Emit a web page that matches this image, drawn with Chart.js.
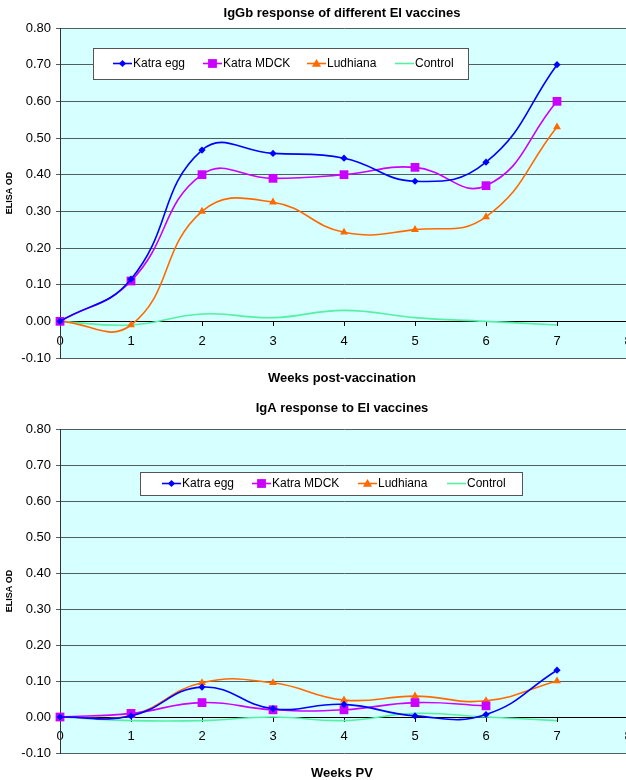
<!DOCTYPE html>
<html>
<head>
<meta charset="utf-8">
<title>IgGb and IgA response to EI vaccines</title>
<script src="https://cdn.jsdelivr.net/npm/chart.js@4.4.1/dist/chart.umd.min.js"></script>
<style>
  html, body { margin: 0; padding: 0; background: #ffffff; overflow: hidden; width: 626px; height: 780px; }
  .panel { position: absolute; left: 0; width: 640px; height: 390px; }
  #top { top: 0; }
  #bottom { top: 390px; }
</style>
</head>
<body>
<div class="panel" id="top"><canvas id="chartIgGb" width="640" height="390"></canvas></div>
<div class="panel" id="bottom"><canvas id="chartIgA" width="640" height="390"></canvas></div>
<script>
// Weeks after vaccination
const weeks = [0, 1, 2, 3, 4, 5, 6, 7];
const seriesNames = ['Katra egg', 'Katra MDCK', 'Ludhiana', 'Control'];
const yTickValues = [-0.10, 0.00, 0.10, 0.20, 0.30, 0.40, 0.50, 0.60, 0.70, 0.80];
const xTickValues = [0, 1, 2, 3, 4, 5, 6, 7, 8];

// IgGb ELISA OD
const iggbKatraEgg  = [0.00, 0.115, 0.467, 0.458, 0.445, 0.382, 0.434, 0.70];
const iggbKatraMDCK = [0.00, 0.11, 0.40, 0.39, 0.40, 0.42, 0.37, 0.60];
const iggbLudhiana  = [0.00, -0.01, 0.30, 0.325, 0.243, 0.25, 0.285, 0.53];
const iggbControl   = [0.00, -0.01, 0.02, 0.01, 0.03, 0.01, 0.00, -0.01];

// IgA ELISA OD
const igaKatraEgg  = [0.00, 0.003, 0.083, 0.023, 0.035, 0.003, 0.007, 0.13];
const igaKatraMDCK = [0.00, 0.01, 0.04, 0.02, 0.02, 0.04, 0.031, null];
const igaLudhiana  = [0.00, 0.005, 0.095, 0.095, 0.047, 0.058, 0.045, 0.10];
const igaControl   = [0.00, -0.01, -0.01, 0.00, -0.01, 0.01, 0.00, -0.01];

const FONT = '"Liberation Sans", Arial, sans-serif';
const styles = [
  { color: '#0000ff', point: 'rectRot', radius: 3.6 },
  { color: '#cc00ff', point: 'rect', radius: 6.2 },
  { color: '#ff6a00', point: 'triangle', radius: 4.6 },
  { color: '#55f0a5', point: false, radius: 0 }
];

function toPoints(values) {
  return weeks.map((w, i) => ({ x: w, y: values[i] }));
}

function makeDatasets(list) {
  return list.map((values, i) => ({
    label: seriesNames[i],
    data: toPoints(values),
    borderColor: styles[i].color,
    backgroundColor: styles[i].color,
    borderWidth: 1.6,
    pointStyle: styles[i].point,
    pointRadius: styles[i].radius,
    pointHoverRadius: styles[i].radius,
    pointBorderWidth: 0,
    tension: 0.45,
    spanGaps: false,
    clip: false
  }));
}

// Plot background, headings and the boxed legend inside the plot
const decorations = {
  id: 'decorations',
  beforeDraw(chart) {
    const a = chart.chartArea, ctx = chart.ctx;
    ctx.save();
    ctx.fillStyle = '#d6ffff';
    ctx.fillRect(a.left, a.top, a.right - a.left, a.bottom - a.top);
    ctx.restore();
  },
  afterDraw(chart, args, opts) {
    const a = chart.chartArea, ctx = chart.ctx;
    const cx = (a.left + a.right) / 2 - 2;
    ctx.save();
    ctx.fillStyle = '#000';
    ctx.textAlign = 'center';
    ctx.textBaseline = 'middle';
    ctx.font = 'bold 13px ' + FONT;
    ctx.fillText(opts.title, cx, opts.titleY);
    ctx.fillText(opts.xTitle, cx, opts.xTitleY);

    // legend box
    const L = opts.legend;
    ctx.fillStyle = '#ffffff';
    ctx.fillRect(L.x, L.y, L.w, L.h);
    ctx.strokeStyle = '#555';
    ctx.lineWidth = 1;
    ctx.strokeRect(L.x + 0.5, L.y + 0.5, L.w, L.h);
    const my = L.y + L.h / 2;
    ctx.font = '12px ' + FONT;
    ctx.textAlign = 'left';
    L.items.forEach((x0, i) => {
      const st = styles[i];
      ctx.strokeStyle = st.color;
      ctx.fillStyle = st.color;
      ctx.lineWidth = 1.6;
      ctx.beginPath();
      ctx.moveTo(x0, my);
      ctx.lineTo(x0 + 19, my);
      ctx.stroke();
      const mx = x0 + 9.5;
      ctx.beginPath();
      if (st.point === 'rectRot') {
        ctx.moveTo(mx, my - 3.6); ctx.lineTo(mx + 3.6, my); ctx.lineTo(mx, my + 3.6); ctx.lineTo(mx - 3.6, my);
      } else if (st.point === 'rect') {
        ctx.rect(mx - 4.4, my - 4.4, 8.8, 8.8);
      } else if (st.point === 'triangle') {
        ctx.moveTo(mx, my - 4.6); ctx.lineTo(mx + 4.6, my + 3.2); ctx.lineTo(mx - 4.6, my + 3.2);
      }
      ctx.closePath();
      if (st.point) ctx.fill();
      ctx.fillStyle = '#000';
      ctx.fillText(seriesNames[i], x0 + 20, my + 0.5);
    });
    ctx.restore();
  }
};

function buildChart(canvasId, list, deco, padTop, padBottom) {
  return new Chart(document.getElementById(canvasId), {
    type: 'line',
    data: { datasets: makeDatasets(list) },
    plugins: [decorations],
    options: {
      responsive: false,
      animation: false,
      devicePixelRatio: 1,
      layout: { padding: { top: padTop, bottom: padBottom, left: 0, right: 12 } },
      plugins: {
        legend: { display: false },
        title: { display: false },
        tooltip: { enabled: false },
        decorations: deco
      },
      scales: {
        x: {
          type: 'linear',
          min: 0, max: 8,
          position: { y: 0 },
          afterBuildTicks(s) { s.ticks = xTickValues.map(v => ({ value: v })); },
          grid: { drawOnChartArea: false, drawTicks: true, tickLength: 4, color: '#000' },
          border: { display: true, color: '#000', width: 1 },
          ticks: { color: '#000', font: { family: FONT, size: 13 }, padding: 8, maxRotation: 0, autoSkip: false }
        },
        y: {
          min: -0.1, max: 0.8,
          afterBuildTicks(s) { s.ticks = yTickValues.map(v => ({ value: v })); },
          afterFit(s) { s.width = 60; },
          grid: { color: '#4f5e5e', lineWidth: 1, tickLength: 4, drawTicks: true },
          border: { display: true, color: '#333', width: 1 },
          ticks: { color: '#000', font: { family: FONT, size: 13 }, padding: 5, callback: v => v.toFixed(2) },
          title: { display: true, text: 'ELISA OD', color: '#000', font: { family: FONT, size: 9, weight: 'bold' }, padding: { top: 4, bottom: 4 } }
        }
      }
    }
  });
}

buildChart('chartIgGb', [iggbKatraEgg, iggbKatraMDCK, iggbLudhiana, iggbControl], {
  title: 'IgGb response of different EI vaccines', titleY: 13,
  xTitle: 'Weeks post-vaccination', xTitleY: 378,
  legend: { x: 93, y: 48, w: 375, h: 31, items: [113, 203, 307, 395] }
}, 28, 32);

buildChart('chartIgA', [igaKatraEgg, igaKatraMDCK, igaLudhiana, igaControl], {
  title: 'IgA response to EI vaccines', titleY: 18,
  xTitle: 'Weeks PV', xTitleY: 383,
  legend: { x: 140, y: 82, w: 382, h: 23, items: [162, 252, 358, 447] }
}, 39, 27);
</script>
</body>
</html>
